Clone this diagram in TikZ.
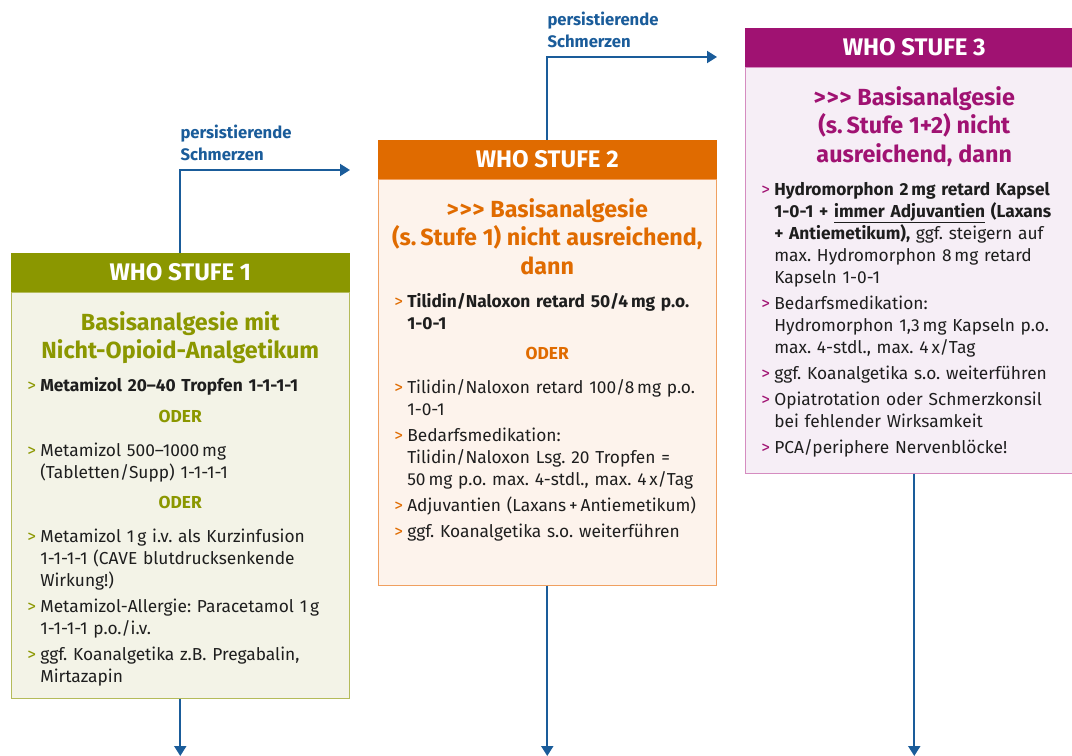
\documentclass[tikz,border=0pt]{standalone}
\usepackage{fontspec}
\setmainfont{Fira Sans}
\usepackage{xcolor}
\usetikzlibrary{arrows.meta, positioning, calc}

\definecolor{s1col}{HTML}{8B9700}
\definecolor{s1fill}{HTML}{F3F3E7}
\definecolor{s1rand}{HTML}{B4BB5A}
\definecolor{s2col}{HTML}{E06B00}
\definecolor{s2fill}{HTML}{FDF3EC}
\definecolor{s2rand}{HTML}{F0A060}
\definecolor{s3col}{HTML}{A01272}
\definecolor{s3fill}{HTML}{F6EEF6}
\definecolor{s3rand}{HTML}{D58CC0}
\definecolor{pfeilblau}{HTML}{1A5C9A}
\definecolor{textgrau}{HTML}{1E1E1E}

\newcommand{\drei}{>\kern0.6pt>\kern0.6pt>}
\newcommand{\titel}[2]{{\centering\leftskip=-20pt plus 1fil\rightskip=-20pt plus 1fil\fontsize{17.5}{21.5}\selectfont\bfseries\color{#1}#2\par}\vspace{5pt}}
\newcommand{\pkt}[2]{{\rightskip=-20pt plus 1fil\hangindent=9.75pt\hangafter=1\noindent\makebox[9.75pt][l]{\color{#1}>}#2\par}}
\newcommand{\oder}[1]{\vspace{3.5pt}{\centering\bfseries\color{#1}ODER\par}\vspace{6pt}}

\begin{document}
\begin{tikzpicture}[
            x=0.75pt, y=0.75pt,
            kopf/.style={rectangle, fill=#1, draw=#1, text=white, minimum width=253.5pt,
                         minimum height=29pt, inner sep=0pt, font=\fontsize{18}{20}\selectfont\bfseries},
            feld/.style 2 args={rectangle, fill=#1, draw=#2, line width=0.9pt,
                         minimum width=253.5pt, minimum height=304pt, inner sep=0pt},
            inhalt/.style={text width=229.5pt, inner sep=0pt, text=textgrau,
                         font=\fontsize{13}{16.5}\selectfont},
            pfeil/.style={draw=pfeilblau, line width=1.5pt, -{Triangle[width=9pt,length=7.5pt]}},
            hinweis/.style={text=pfeilblau, font=\fontsize{12.5}{16.5}\selectfont\bfseries,
                         align=left, inner sep=0pt}
        ]
        \clip (0,0) rectangle (1072,-756);

        % ===== STUFE 1 =====
        \node[kopf=s1col, anchor=north west] (s1h) at (11,-253) {WHO STUFE 1};
        \node[feld={s1fill}{s1rand}, below=0pt of s1h] (s1b) {};
        \node[inhalt, below=14pt of s1b.north] (s1t) {\raggedright\frenchspacing\parindent=0pt\parskip=3pt
            \titel{s1col}{Basisanalgesie mit\\Nicht-Opioid-Analgetikum}
            \pkt{s1col}{\textbf{Metamizol 20--40 Tropfen 1-1-1-1}}
            \oder{s1col}
            \pkt{s1col}{Metamizol 500--1000\,mg\newline(Tabletten/Supp) 1-1-1-1}
            \oder{s1col}
            \pkt{s1col}{Metamizol 1\,g i.v. als Kurzinfusion\newline 1-1-1-1 (CAVE blutdrucksenkende\newline Wirkung!)}
            \pkt{s1col}{Metamizol-Allergie: Paracetamol 1\,g\newline 1-1-1-1 p.o./i.v.}
            \pkt{s1col}{ggf. Koanalgetika z.B. Pregabalin,\newline Mirtazapin}};

        % ===== STUFE 2 =====
        \node[kopf=s2col, anchor=north west] (s2h) at (378,-140) {WHO STUFE 2};
        \node[feld={s2fill}{s2rand}, below=0pt of s2h] (s2b) {};
        \node[inhalt, below=14pt of s2b.north] (s2t) {\raggedright\frenchspacing\parindent=0pt\parskip=3pt
            \titel{s2col}{\drei{} Basisanalgesie\\(s.\,Stufe 1) nicht ausreichend,\\dann}
            \pkt{s2col}{\textbf{Tilidin/Naloxon retard 50/4\,mg p.o.\newline 1-0-1}}
            \oder{s2col}
            \pkt{s2col}{Tilidin/Naloxon retard 100/8\,mg p.o.\newline 1-0-1}
            \pkt{s2col}{Bedarfsmedikation:\newline Tilidin/Naloxon Lsg. 20 Tropfen =\newline 50\,mg p.o. max. 4-stdl., max. 4\,x/Tag}
            \pkt{s2col}{Adjuvantien (Laxans\,+\,Antiemetikum)}
            \pkt{s2col}{ggf. Koanalgetika s.o. weiterführen}};

        % ===== STUFE 3 =====
        \node[kopf=s3col, anchor=north west] (s3h) at (745,-28) {WHO STUFE 3};
        \node[feld={s3fill}{s3rand}, below=0pt of s3h] (s3b) {};
        \node[inhalt, below=14pt of s3b.north] (s3t) {\raggedright\frenchspacing\parindent=0pt\parskip=3pt
            \titel{s3col}{\drei{} Basisanalgesie\\(s.\,Stufe 1+2) nicht\\ausreichend, dann}
            \pkt{s3col}{\textbf{Hydromorphon 2\,mg retard Kapsel\newline 1-0-1 + \underline{immer Adjuvantien} (Laxans\newline + Antiemetikum),} ggf. steigern auf\newline max. Hydromorphon 8\,mg retard\newline Kapseln 1-0-1}
            \pkt{s3col}{Bedarfsmedikation:\newline Hydromorphon 1,3\,mg Kapseln p.o.\newline max. 4-stdl., max. 4\,x/Tag}
            \pkt{s3col}{ggf. Koanalgetika s.o. weiterführen}
            \pkt{s3col}{Opiatrotation oder Schmerzkonsil\newline bei fehlender Wirksamkeit}
            \pkt{s3col}{PCA/periphere Nervenblöcke!}};

        % ===== PFEILE =====
        \coordinate (e1) at (350,-170);
        \coordinate (e2) at (717,-57);
        \draw[pfeil] (s1h.north) |- (e1);
        \draw[pfeil] (s2h.north) |- (e2);
        \node[hinweis, anchor=south west] (l1) at ($(s1h.north |- e1)+(0,9)$) {persistierende\\Schmerzen};
        \node[hinweis, anchor=south west] (l2) at ($(s2h.north |- e2)+(0,9)$) {persistierende\\Schmerzen};

        \coordinate (d1) at (s1b.south |- 0,-756);
        \coordinate (d2) at (s2b.south |- 0,-756);
        \coordinate (d3) at (s3b.south |- 0,-756);
        \draw[pfeil] (s1b) -- (d1);
        \draw[pfeil] (s2b) -- (d2);
        \draw[pfeil] (s3b) -- (d3);

        \end{tikzpicture}
\end{document}
